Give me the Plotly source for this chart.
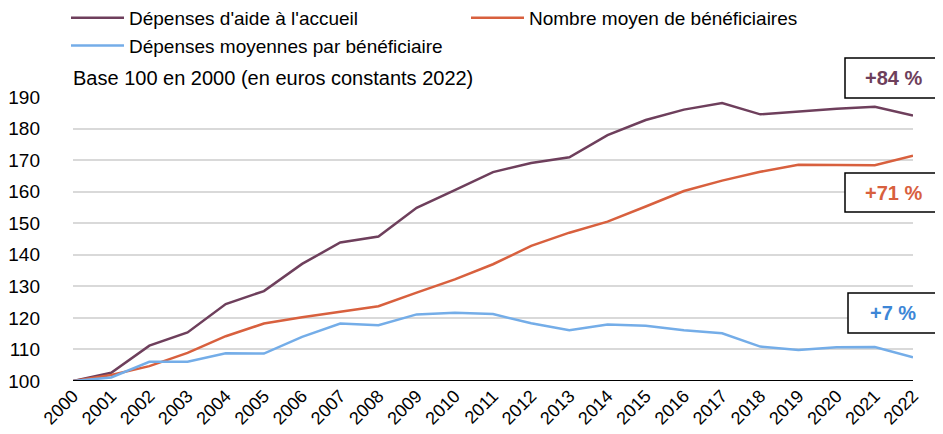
import plotly.graph_objects as go

years = list(range(2000, 2023))
depenses_aide = [100, 102.6, 111.2, 115.4, 124.4, 128.5, 137.1, 143.9, 145.8, 154.9, 160.5,
                 166.2, 169.1, 170.9, 177.9, 182.7, 186.0, 188.1, 184.5, 185.4, 186.3, 186.9, 184.1]
nb_beneficiaires = [100, 101.9, 104.7, 108.9, 114.2, 118.2, 120.2, 122.0, 123.7, 128.0, 132.2,
                    137.0, 142.8, 147.0, 150.5, 155.3, 160.2, 163.5, 166.3, 168.5, 168.4, 168.4, 171.4]
dep_moyennes = [100, 101.1, 106.1, 106.1, 108.8, 108.7, 114.0, 118.2, 117.7, 121.1, 121.6,
                121.2, 118.3, 116.1, 117.9, 117.5, 116.1, 115.1, 110.9, 109.8, 110.7, 110.8, 107.5]
series_names = ["Dépenses d'aide à l'accueil", "Nombre moyen de bénéficiaires",
                "Dépenses moyennes par bénéficiaire"]
labels = ["+84 %", "+71 %", "+7 %"]

c_purple = "#6E3F5C"
c_orange = "#D8603E"
c_blue = "#74ADE8"
c_blue_txt = "#3D86D6"

fig = go.Figure()
for name, vals, col in zip(series_names, [depenses_aide, nb_beneficiaires, dep_moyennes],
                           [c_purple, c_orange, c_blue]):
    fig.add_trace(go.Scatter(x=years, y=vals, mode="lines", name=name,
                             line=dict(color=col, width=2.5)))

FONT = "Liberation Sans, Arial, sans-serif"
OFF = 8  # browser body margin
W, H = 943 - OFF, 434 - OFF
L, T = 73 - OFF, 97 - OFF
PW, PH = 840, 284
R = W - L - PW
B = H - T - PH

def px_x(p):
    return (p - 73) / PW

def px_y(p):
    return (381 - p) / PH

fig.update_layout(
    width=W, height=H,
    margin=dict(l=L, r=R, t=T, b=B, autoexpand=False),
    paper_bgcolor="white", plot_bgcolor="white",
    font=dict(family=FONT, size=19, color="black"),
    showlegend=True,
    legend=dict(orientation="h", xref="container", yref="paper",
                x=58 / W, y=px_y(-1), xanchor="left", yanchor="top",
                entrywidth=332, itemwidth=53, font=dict(size=19),
                tracegroupgap=0, bgcolor="rgba(0,0,0,0)"),
    xaxis=dict(range=[2000, 2022], tickmode="array", tickvals=years,
               ticktext=[str(y) for y in years], tickangle=-45,
               showgrid=False, zeroline=False, showline=False,
               tickfont=dict(size=18), automargin=False),
    yaxis=dict(range=[100, 190], tickvals=list(range(100, 191, 10)),
               showgrid=True, gridcolor="#D9D9D9", gridwidth=1.5,
               zeroline=False, showline=False, tickfont=dict(size=19),
               ticklabelstandoff=32, automargin=False),
)
# baseline
fig.add_shape(type="line", xref="paper", yref="y", x0=0, x1=1, y0=100, y1=100,
              line=dict(color="black", width=2), layer="above")

fig.add_annotation(xref="paper", yref="paper", x=px_x(71), y=px_y(78), xanchor="left", yanchor="middle",
                   text="Base 100 en 2000 (en euros constants 2022)", showarrow=False,
                   font=dict(size=20, color="black"))

boxes = [(845, 58, 98, labels[0], c_purple),
         (845, 173, 212, labels[1], c_orange),
         (848, 293, 333, labels[2], c_blue_txt)]
for x0, y0, y1, txt, col in boxes:
    fig.add_shape(type="rect", xref="paper", yref="paper",
                  x0=px_x(x0), x1=px_x(950), y0=px_y(y1), y1=px_y(y0),
                  line=dict(color="black", width=1.5), fillcolor="white", layer="above")
    fig.add_annotation(xref="paper", yref="paper", x=px_x(893), y=px_y((y0 + y1) / 2),
                       text=f"<b>{txt}</b>", showarrow=False,
                       font=dict(size=20, color=col), xanchor="center", yanchor="middle")

fig.write_html("out.html")
